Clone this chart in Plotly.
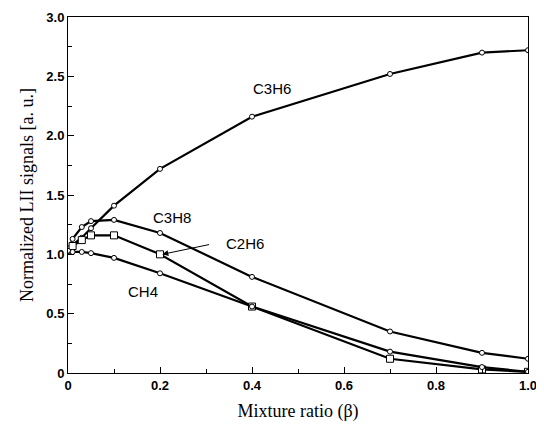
import plotly.graph_objects as go

x_vals = [0, 0.01, 0.03, 0.05, 0.1, 0.2, 0.4, 0.7, 0.9, 1.0]
c3h6 = [1.03, 1.08, 1.14, 1.22, 1.41, 1.72, 2.16, 2.52, 2.70, 2.72]
c3h8 = [1.03, 1.13, 1.23, 1.28, 1.29, 1.18, 0.81, 0.35, 0.17, 0.12]
c2h6 = [1.04, 1.07, 1.12, 1.16, 1.16, 1.00, 0.56, 0.12, 0.03, 0.01]
ch4 = [1.03, 1.02, 1.02, 1.01, 0.97, 0.84, 0.56, 0.18, 0.05, 0.01]

x_ticks = [0, 0.2, 0.4, 0.6, 0.8, 1.0]
x_labels = ["0", "0.2", "0.4", "0.6", "0.8", "1.0"]
y_ticks = [0, 0.5, 1.0, 1.5, 2.0, 2.5, 3.0]
y_labels = ["0", "0.5", "1.0", "1.5", "2.0", "2.5", "3.0"]

fig = go.Figure()
series = [("C3H6", c3h6, "circle", 5), ("C3H8", c3h8, "circle", 5),
          ("C2H6", c2h6, "square", 7), ("CH4", ch4, "circle", 5)]
for name, ys, sym, sz in series:
    fig.add_trace(go.Scatter(x=x_vals, y=ys, mode="lines+markers", name=name,
                             line=dict(color="black", width=2.2),
                             marker=dict(symbol=sym, size=sz, color="white",
                                         line=dict(width=1, color="black")),
                             showlegend=False))

lab_font = dict(family="Liberation Sans, Arial", size=15, color="black")
fig.add_annotation(x=0.443, y=2.40, text="C3H6", showarrow=False, font=lab_font)
fig.add_annotation(x=0.226, y=1.31, text="C3H8", showarrow=False, font=lab_font)
fig.add_annotation(x=0.385, y=1.09, text="C2H6", showarrow=False, font=lab_font)
fig.add_annotation(x=0.163, y=0.69, text="CH4", showarrow=False, font=lab_font)
fig.add_annotation(x=0.205, y=1.00, ax=0.31, ay=1.085, axref="x", ayref="y",
                   text="", showarrow=True, arrowhead=2, arrowsize=1.2,
                   arrowwidth=1, arrowcolor="black")

title_font = dict(family="Liberation Serif, Times New Roman", size=18, color="black")
tick_font = dict(family="Liberation Sans, Arial", size=13, color="black", weight="bold")

fig.update_layout(
    width=544, height=434,
    margin=dict(l=60, r=24, t=9, b=69, autoexpand=False),
    paper_bgcolor="white", plot_bgcolor="white",
    xaxis=dict(range=[0, 1], tickvals=x_ticks, ticktext=x_labels,
               ticks="inside", ticklen=6, tickcolor="black",
               showline=True, linecolor="black", linewidth=1, mirror=True,
               showgrid=False, zeroline=False, tickfont=tick_font,
               minor=dict(dtick=0.1, ticks="inside", ticklen=4, tickcolor="black"),
               title=dict(text="Mixture ratio (β)", font=title_font, standoff=12)),
    yaxis=dict(range=[0, 3], tickvals=y_ticks, ticktext=y_labels,
               ticks="inside", ticklen=6, tickcolor="black",
               showline=True, linecolor="black", linewidth=1, mirror=True,
               showgrid=False, zeroline=False, tickfont=tick_font,
               minor=dict(dtick=0.25, ticks="inside", ticklen=4, tickcolor="black"),
               title=dict(text="Normalized LII signals [a. u.]", font=title_font, standoff=8)),
)

fig.write_html("out.html")
